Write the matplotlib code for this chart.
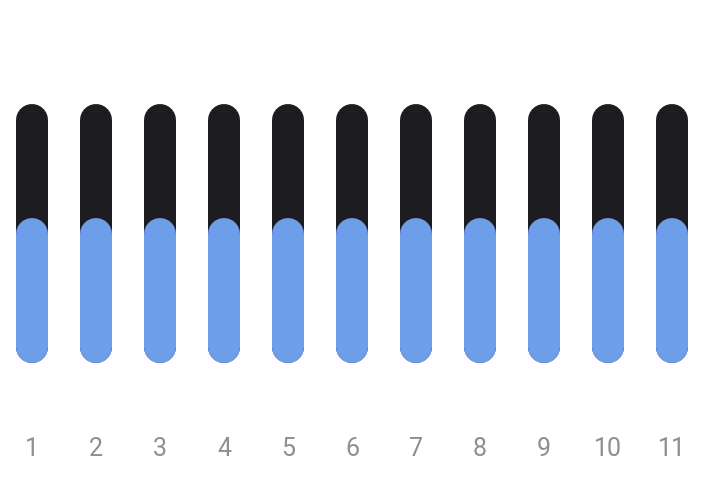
import matplotlib
matplotlib.use("Agg")
import matplotlib.pyplot as plt
import numpy as np

categories = ["1", "2", "3", "4", "5", "6", "7", "8", "9", "10", "11"]
background = [100] * 11
values = [50] * 11

dark = "#1d1c21"
blue = "#6d9eea"
grey = "#8e8e93"

fig = plt.figure(figsize=(7.04, 4.80), dpi=100)
# axes: value 0 at pixel y=347, value 100 at pixel y=120
ax = fig.add_axes([0, (480 - 347) / 480, 1, (347 - 120) / 480])
ax.set_xlim(-0.5, len(categories) - 0.5)
ax.set_ylim(0, 100)

lw = 32 * 72 / 100
x = np.arange(len(categories))
for xi, b, v in zip(x, background, values):
    ax.plot([xi, xi], [0, b], color=dark, lw=lw, solid_capstyle="round", zorder=2, clip_on=False)
    ax.plot([xi, xi], [0, v], color=blue, lw=lw, solid_capstyle="round", zorder=3, clip_on=False)

ax.set_xticks(x)
ax.set_xticklabels(categories, fontsize=18, color=grey, family=["Roboto", "DejaVu Sans"])
ax.tick_params(axis="x", length=0, pad=65)
ax.set_yticks([])
for s in ax.spines.values():
    s.set_visible(False)
ax.patch.set_alpha(0)

fig.savefig("out.png", dpi=100)
